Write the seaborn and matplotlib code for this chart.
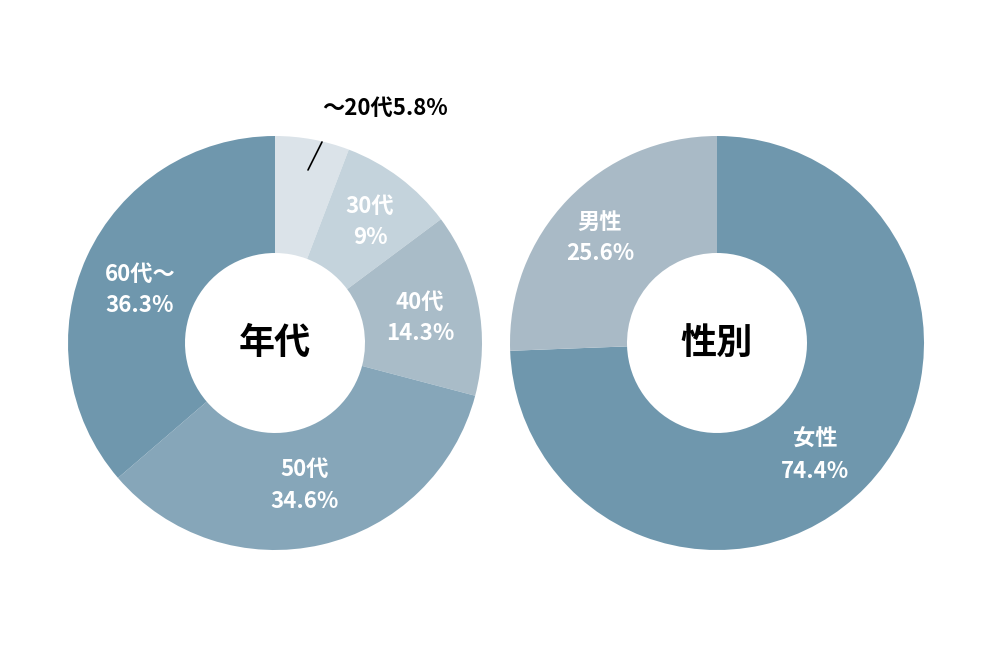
import matplotlib
matplotlib.use("Agg")
import matplotlib.pyplot as plt
import seaborn as sns

sns.set_theme(style="white")
plt.rcParams['font.family'] = ['Noto Sans CJK JP', 'DejaVu Sans']

age_labels = ["～20代", "30代", "40代", "50代", "60代～"]
age_values = [5.8, 9.0, 14.3, 34.6, 36.3]
age_colors = ["#dbe3e9", "#c4d3dc", "#a9bcc8", "#86a6b9", "#6f97ad"]
sex_labels = ["女性", "男性"]
sex_values = [74.4, 25.6]
sex_colors = ["#6f97ad", "#a9bac6"]

W, H = 992, 662
fig = plt.figure(figsize=(W/100, H/100), dpi=100)
R = 207

def make_ax(cx, cy):
    ax = fig.add_axes([(cx-R)/W, (H-cy-R)/H, 2*R/W, 2*R/H])
    return ax

def fix(ax):
    ax.set_xlim(-1, 1); ax.set_ylim(-1, 1); ax.axis("off")

def pos(cx, cy, x, y):
    return ((x-cx)/R, (cy-y)/R)

kw = dict(color="white", fontsize=16, fontweight="bold", ha="center", va="center", linespacing=1.5)

# left donut
cx, cy = 275, 343
ax = make_ax(cx, cy)
ax.pie(age_values, colors=age_colors, startangle=90, counterclock=False, radius=1,
       wedgeprops=dict(width=1-90/207, edgecolor="none"))
fix(ax)
ax.text(*pos(cx, cy, 370, 222), f"{age_labels[1]}\n{age_values[1]:g}%", **kw)
ax.text(*pos(cx, cy, 420, 318), f"{age_labels[2]}\n{age_values[2]}%", **kw)
ax.text(*pos(cx, cy, 305, 485), f"{age_labels[3]}\n{age_values[3]}%", **kw)
ax.text(*pos(cx, cy, 140, 290), f"{age_labels[4]}\n{age_values[4]}%", **kw)
ax.text(*pos(cx, cy, 385, 108), f"{age_labels[0]}{age_values[0]}%", color="black",
        fontsize=16, fontweight="bold", ha="center", va="center")
p1 = pos(cx, cy, 322, 142); p2 = pos(cx, cy, 308, 170)
ax.plot([p1[0], p2[0]], [p1[1], p2[1]], color="black", lw=1.2, clip_on=False)
ax.text(0, 0, "年代", color="black", fontsize=26, fontweight="bold", ha="center", va="center")

# right donut
cx, cy = 717, 343
ax2 = make_ax(cx, cy)
ax2.pie(sex_values, colors=sex_colors, startangle=90, counterclock=False, radius=1,
        wedgeprops=dict(width=1-90/207, edgecolor="none"))
fix(ax2)
ax2.text(*pos(cx, cy, 815, 455), f"{sex_labels[0]}\n{sex_values[0]}%", **kw)
ax2.text(*pos(cx, cy, 600, 238), f"{sex_labels[1]}\n{sex_values[1]}%", **kw)
ax2.text(0, 0, "性別", color="black", fontsize=26, fontweight="bold", ha="center", va="center")

fig.savefig("out.png", dpi=100, facecolor="white")
